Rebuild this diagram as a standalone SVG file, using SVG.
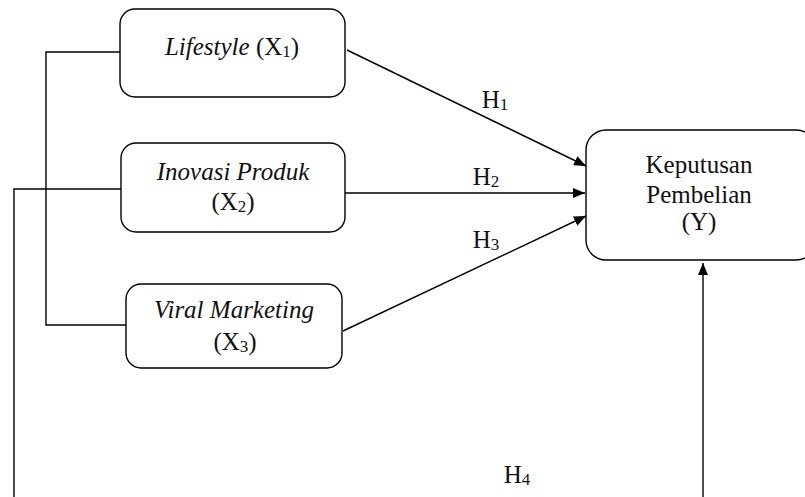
<svg xmlns="http://www.w3.org/2000/svg" width="805" height="497" viewBox="0 0 805 497">
<defs>
<marker id="arr" viewBox="0 0 12 10" refX="12" refY="5" markerWidth="12" markerHeight="10" markerUnits="userSpaceOnUse" orient="auto">
<path d="M0,0 L12,5 L0,10 Z" fill="#000"/>
</marker>
<style>
.box{fill:#fff;stroke:#000;stroke-width:1.4}
.ln{fill:none;stroke:#000;stroke-width:1.4}
.t{font-family:"Liberation Serif","Times New Roman",serif;font-size:25px;fill:#111;text-anchor:middle}
.i{font-style:italic}
.sub{font-size:17px}
</style>
</defs>
<rect width="805" height="497" fill="#fff"/>
<g id="connectors">
<polyline class="ln" points="120,52 46,52 46,325 127,325"/>
<polyline class="ln" points="121,189 14,189 14,497"/>
<line class="ln" x1="347" y1="50" x2="586" y2="166" marker-end="url(#arr)"/>
<line class="ln" x1="345" y1="193" x2="585" y2="193" marker-end="url(#arr)"/>
<line class="ln" x1="343" y1="331" x2="586" y2="216" marker-end="url(#arr)"/>
<line class="ln" x1="703" y1="497" x2="703" y2="263" marker-end="url(#arr)"/>
<text class="t" x="495" y="108">H<tspan class="sub" dy="2">1</tspan></text>
<text class="t" x="486" y="185">H<tspan class="sub" dy="2">2</tspan></text>
<text class="t" x="486" y="248">H<tspan class="sub" dy="2">3</tspan></text>
<text class="t" x="517" y="483">H<tspan class="sub" dy="2">4</tspan></text>
</g>
<g id="x1">
<rect class="box" x="120" y="9" width="225" height="88" rx="15"/>
<text class="t" x="232" y="55"><tspan class="i">Lifestyle</tspan> (X<tspan class="sub" dy="2">1</tspan><tspan dy="-2">)</tspan></text>
</g>
<g id="x2">
<rect class="box" x="121" y="143" width="224" height="89" rx="15"/>
<text class="t i" x="233" y="180">Inovasi Produk</text>
<text class="t" x="233" y="210">(X<tspan class="sub" dy="2">2</tspan><tspan dy="-2">)</tspan></text>
</g>
<g id="x3">
<rect class="box" x="126" y="284" width="216" height="84" rx="15"/>
<text class="t i" x="234" y="318">Viral Marketing</text>
<text class="t" x="235" y="350">(X<tspan class="sub" dy="2">3</tspan><tspan dy="-2">)</tspan></text>
</g>
<g id="y">
<rect class="box" x="586" y="130" width="230" height="130" rx="20"/>
<text class="t" x="699" y="173">Keputusan</text>
<text class="t" x="699" y="203">Pembelian</text>
<text class="t" x="699" y="230">(Y)</text>
</g>
</svg>
